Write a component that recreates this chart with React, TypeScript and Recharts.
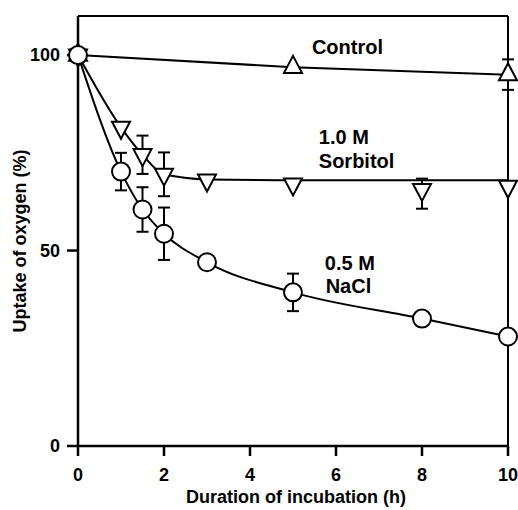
import {
  LineChart,
  Line,
  XAxis,
  YAxis,
  ErrorBar,
  ReferenceLine,
  ReferenceDot,
} from "recharts";

// Incubation times (h)
const hours = [0, 1, 1.5, 2, 3, 5, 8, 10];
const controlHours = [0, 5, 10];

// Uptake of oxygen (%)
const controlMean = [100, 96.9, 95];
const controlErr = [null, null, 3.9];

const sorbitolMean = [100, 81.5, 74.5, 69.5, 68, 67, 65.6, 66.4];
const sorbitolErr: (number | number[] | null)[] = [null, null, 4.9, 5.6, null, null, [4.9, 2.8], null];
const sorbitolFit = [100, 81.5, 74.5, 69.5, 68.2, 68, 68, 68];

const naclMean = [100, 70.2, 60.5, 54.3, 47.0, 39.3, 32.6, 28.0];
const naclErr = [null, 4.8, 5.7, 6.7, null, 4.8, null, null];

const xTicks = [0, 2, 4, 6, 8, 10];
const yTicks = [0, 50, 100];

const FONT = "'Liberation Sans', Arial, Helvetica, sans-serif";

const controlData = controlHours.map((h, i) => ({ h, y: controlMean[i], err: controlErr[i] }));
const sorbitolData = hours.map((h, i) => ({ h, y: sorbitolMean[i], err: sorbitolErr[i] }));
const sorbitolFitData = hours.map((h, i) => ({ h, y: sorbitolFit[i] }));
const naclData = hours.map((h, i) => ({ h, y: naclMean[i], err: naclErr[i] }));

// annotations: [x, baseline y, text]
const notes: [number, number, string][] = [
  [5.44, 100.3, "Control"],
  [5.6, 77.3, "1.0 M"],
  [5.6, 71.2, "Sorbitol"],
  [5.74, 45.1, "0.5 M"],
  [5.76, 39.1, "NaCl"],
];

const TRI = 17;

function CircleDot(props: any) {
  const { cx, cy, index } = props;
  if (cx == null || cy == null) return null;
  return <circle key={`c${index}`} cx={cx} cy={cy} r={9} fill="#fff" stroke="#000" strokeWidth={2} />;
}

function UpDot(props: any) {
  const { cx, cy, index } = props;
  if (cx == null || cy == null) return null;
  const w = 9;
  const d = `M${cx},${cy - (2 * TRI) / 3} L${cx + w},${cy + TRI / 3} L${cx - w},${cy + TRI / 3} Z`;
  return <path key={`u${index}`} d={d} fill="#fff" stroke="#000" strokeWidth={2} strokeLinejoin="miter" />;
}

function DownDot(props: any) {
  const { cx, cy, index } = props;
  if (cx == null || cy == null) return null;
  const w = 9;
  const d = `M${cx},${cy + (2 * TRI) / 3} L${cx + w},${cy - TRI / 3} L${cx - w},${cy - TRI / 3} Z`;
  return <path key={`d${index}`} d={d} fill="#fff" stroke="#000" strokeWidth={2} strokeLinejoin="miter" />;
}

const labelStyle = { fill: "#000", fontSize: 18, fontWeight: "bold", fontFamily: FONT };

function XTitle(props: any) {
  const vb = props.viewBox;
  return (
    <text x={vb.x + vb.width / 2 + 3} y={vb.y + 57} textAnchor="middle" {...labelStyle}>
      Duration of incubation (h)
    </text>
  );
}

function YTitle(props: any) {
  const vb = props.viewBox;
  const x = 26;
  const y = vb.y + 225;
  return (
    <text x={x} y={y} transform={`rotate(-90 ${x} ${y})`} textAnchor="middle" {...labelStyle}>
      Uptake of oxygen (%)
    </text>
  );
}

export default function App() {
  return (
    <div style={{ position: "absolute", left: 0, top: 0, width: 518, height: 510, background: "#fff" }}>
      <LineChart width={518} height={510} margin={{ top: 16, right: 10, bottom: 0, left: 0 }}>
        <XAxis
          dataKey="h"
          type="number"
          domain={[0, 10]}
          ticks={xTicks}
          height={64}
          allowDuplicatedCategory={false}
          stroke="#000"
          strokeWidth={2.5}
          tickSize={10}
          tickMargin={12}
          tick={{ fill: "#000", fontSize: 18, fontWeight: "bold", fontFamily: FONT }}
          label={<XTitle />}
        />
        <YAxis
          type="number"
          domain={[0, 110]}
          ticks={yTicks}
          width={78}
          stroke="#000"
          strokeWidth={2.5}
          tickSize={11}
          tickMargin={7}
          tick={{ fill: "#000", fontSize: 18, fontWeight: "bold", fontFamily: FONT }}
          label={<YTitle />}
        />
        <ReferenceLine y={110} stroke="#000" strokeWidth={2} />
        <ReferenceLine x={10} stroke="#000" strokeWidth={2} />

        <Line
          data={controlData}
          dataKey="y"
          type="linear"
          stroke="#000"
          strokeWidth={2}
          dot={<UpDot />}
          activeDot={false}
          isAnimationActive={false}
        >
          <ErrorBar dataKey="err" direction="y" width={6} stroke="#000" strokeWidth={2} />
        </Line>
        <Line
          data={sorbitolFitData}
          dataKey="y"
          type="monotone"
          stroke="#000"
          strokeWidth={2}
          dot={false}
          activeDot={false}
          isAnimationActive={false}
        />
        <Line
          data={sorbitolData}
          dataKey="y"
          stroke="none"
          dot={<DownDot />}
          activeDot={false}
          isAnimationActive={false}
        >
          <ErrorBar dataKey="err" direction="y" width={6} stroke="#000" strokeWidth={2} />
        </Line>
        <Line
          data={naclData}
          dataKey="y"
          type="monotone"
          stroke="#000"
          strokeWidth={2}
          dot={<CircleDot />}
          activeDot={false}
          isAnimationActive={false}
        >
          <ErrorBar dataKey="err" direction="y" width={6} stroke="#000" strokeWidth={2} />
        </Line>

        {notes.map(([x, y, text]) => (
          <ReferenceDot
            key={text}
            x={x}
            y={y}
            r={0}
            fill="none"
            stroke="none"
            label={(p: any) => (
              <text
                x={p.viewBox.x}
                y={p.viewBox.y}
                fill="#000"
                fontSize={20}
                fontWeight="bold"
                fontFamily={FONT}
              >
                {text}
              </text>
            )}
          />
        ))}
      </LineChart>
    </div>
  );
}
